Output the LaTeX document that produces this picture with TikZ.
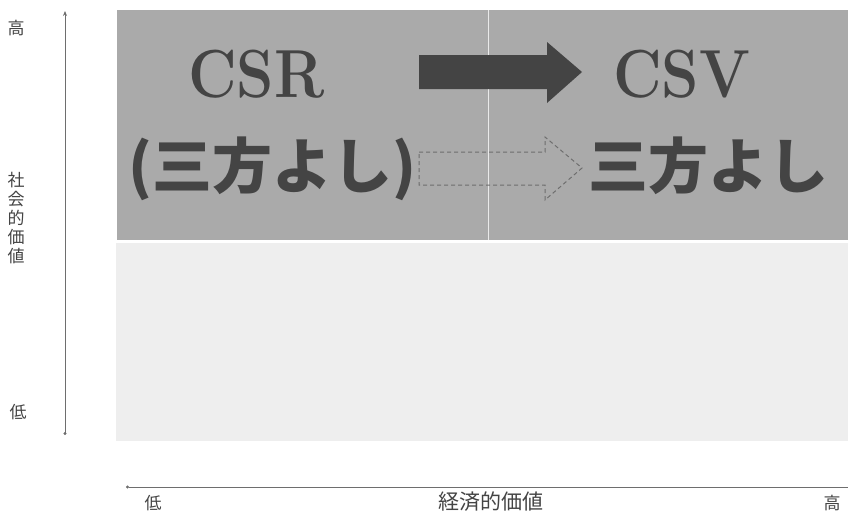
\documentclass[tikz,border=0pt]{standalone}
\usepackage{fontspec}
\newfontfamily\jp{Noto Sans CJK JP}
\usetikzlibrary{arrows.meta}
\definecolor{boxdark}{RGB}{170,170,170}
\definecolor{boxlight}{RGB}{238,238,238}
\definecolor{ink}{RGB}{68,68,68}
\definecolor{axis}{RGB}{110,110,110}
\tikzset{
  axisline/.style={draw=axis, line width=1pt},
  axlabel/.style={text=ink, inner sep=0pt, font=\jp\fontsize{17}{19}\selectfont},
  bigtext/.style={text=ink, inner sep=0pt, anchor=base west, xscale=0.88, font=\bfseries\fontsize{68}{68}\selectfont},
  bigjp/.style={text=ink, inner sep=0pt, anchor=base west, font=\jp\bfseries\fontsize{60}{60}\selectfont},
}
\begin{document}
\begin{tikzpicture}[x=1pt,y=-1pt]
\useasboundingbox (0,0) rectangle (848,514);
% boxes
\fill[boxdark] (117,10) rectangle (848,240);
\fill[boxlight] (116,243) rectangle (848,441);
\draw[white!75!boxdark, line width=1pt] (488,10) -- (488,240);
% vertical axis
\coordinate (vtop) at (65,11);
\coordinate (vbot) at (65,435);
\draw[axisline, {Stealth[length=5pt,width=4pt]}-{Circle[length=3pt]}] (vtop) -- (vbot);
% horizontal axis
\coordinate (hl) at (126,487);
\coordinate (hr) at (848,487);
\draw[axisline, {Circle[length=3pt]}-] (hl) -- (hr);
% axis labels
\node[axlabel] (yhi) at (16,28) {高};
\node[axlabel, align=center] (ylab) at (16,218) {社\\会\\的\\価\\値};
\node[axlabel] (ylo) at (18,412) {低};
\node[axlabel] (xlo) at (153,503) {低};
\node[axlabel, font=\jp\fontsize{21}{23}\selectfont] (xlab) at (491,502) {経済的価値};
\node[axlabel] (xhi) at (832,503) {高};
% big texts
\node[bigtext] (csr) at (188,97) {CSR};
\node[bigtext] (csv) at (613,97) {CSV};
\node[bigjp] (sanpo1) at (128,188) {(三方よし)};
\node[bigjp] (sanpo2) at (588,188) {三方よし};
% solid arrow
\fill[ink] (419,55) -- (547,55) -- (547,42) -- (582,72) -- (547,103) -- (547,89) -- (419,89) -- cycle;
% dashed hollow arrow
\draw[axis, line width=1pt, dash pattern=on 4pt off 3pt]
  (419,152) -- (545,152) -- (545,137) -- (582,168) -- (545,200) -- (545,185) -- (419,185) -- cycle;
\end{tikzpicture}
\end{document}
